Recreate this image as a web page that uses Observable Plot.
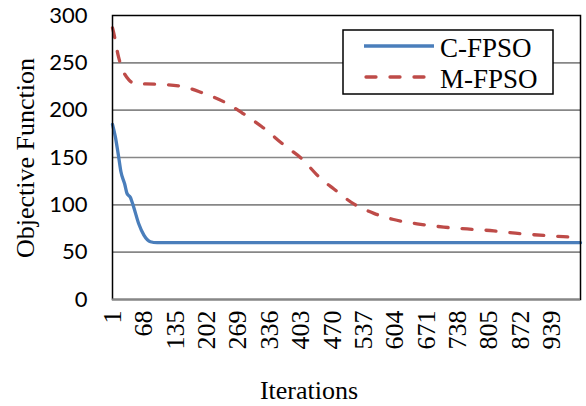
<!DOCTYPE html>
<html><head><meta charset="utf-8">
<script src="https://cdn.jsdelivr.net/npm/d3@7"></script>
<script src="https://cdn.jsdelivr.net/npm/@observablehq/plot@0.6"></script>
<style>
body{margin:0;background:#fff}
#wrap{position:relative;width:586px;height:406px;overflow:hidden}
#wrap svg{position:absolute;left:0;top:0}
g[aria-label="x-axis tick label"]{font-size:26px;font-family:"Liberation Serif",serif}
g[aria-label="y-axis tick label"]{font-size:22px;font-family:Lato,sans-serif}
</style>
</head><body><div id="wrap"></div>
<script>
const seriesNames = ["C-FPSO", "M-FPSO"];
const xTitle = "Iterations";
const yTitle = "Objective Function";
const xTicks = [1, 68, 135, 202, 269, 336, 403, 470, 537, 604, 671, 738, 805, 872, 939];
const yTicks = [0, 50, 100, 150, 200, 250, 300];

const iterC = [1, 7, 14, 19, 27, 32, 39, 46, 57, 68, 82, 96, 1000];
const valC  = [185, 172, 151, 135, 122, 112, 108, 98, 80, 68, 61, 60, 60];

const iterM = [1, 3, 14, 20, 36, 50, 93, 150, 192, 242, 278, 320, 370, 402, 445, 473, 516, 559, 601, 651, 708, 758, 815, 872, 929, 985, 1000];
const valM  = [287, 283, 256, 246, 232, 228, 227.5, 225, 218.5, 208, 197, 182.5, 162, 150, 128, 117, 101, 91, 84.5, 80, 76.5, 74.5, 72.5, 69.5, 67.5, 66, 66];

const colors = ["#4A7EBB", "#BE4B48"];
const dash = "10,14";

const cData = iterC.map((d, i) => ({iter: d, val: valC[i]}));
const mData = iterM.map((d, i) => ({iter: d, val: valM[i]}));

const chart = Plot.plot({
  width: 586, height: 406,
  marginLeft: 112, marginRight: 6, marginTop: 15, marginBottom: 107,
  style: {background: "#fff", color: "#000", overflow: "visible"},
  x: {domain: [1, 1000]},
  y: {domain: [0, 300]},
  marks: [
    Plot.ruleY(yTicks.filter(v => v > 0 && v < 300), {stroke: "#878787", strokeWidth: 1.7}),
    Plot.axisY({ticks: yTicks, tickSize: 0, tickPadding: 25, fontSize: 22, fontFamily: "Lato", label: null}),
    Plot.axisX({ticks: xTicks, tickSize: 0, tickPadding: 11, tickRotate: -90, fontSize: 26, fontFamily: "Liberation Serif", label: null, tickFormat: d => String(d)}),
    Plot.line(cData, {x: "iter", y: "val", stroke: colors[0], strokeWidth: 3.3, curve: "monotone-x"}),
    Plot.line(mData, {x: "iter", y: "val", stroke: colors[1], strokeWidth: 3.3, strokeDasharray: dash, strokeLinecap: "round", curve: "monotone-x"}),
    Plot.frame({stroke: "#000", strokeWidth: 1.5}),
    Plot.ruleY([0], {stroke: "#878787", strokeWidth: 2})
  ]
});
const wrap = document.getElementById("wrap");
wrap.appendChild(chart);

const ns = "http://www.w3.org/2000/svg";
const ov = document.createElementNS(ns, "svg");
ov.setAttribute("width", 586); ov.setAttribute("height", 406);
ov.style.pointerEvents = "none";
ov.innerHTML = `
<g style="font-family:'Liberation Serif','Times New Roman',serif;font-size:26px" fill="#000">
  <rect x="343" y="30" width="210" height="64" fill="#fff" stroke="#000" stroke-width="1.5"/>
  <line x1="364" x2="434" y1="46" y2="46" stroke="${colors[0]}" stroke-width="3.3"/>
  <line x1="366" x2="434" y1="77" y2="77" stroke="${colors[1]}" stroke-width="3.3" stroke-dasharray="${dash}" stroke-linecap="round"/>
  <text x="440" y="57" style="font-size:27px">${seriesNames[0]}</text>
  <text x="440" y="88" style="font-size:27px">${seriesNames[1]}</text>
  <text x="309" y="399" text-anchor="middle">${xTitle}</text>
  <text transform="translate(34,158) rotate(-90)" text-anchor="middle">${yTitle}</text>
</g>`;
wrap.appendChild(ov);
</script>
</body></html>
